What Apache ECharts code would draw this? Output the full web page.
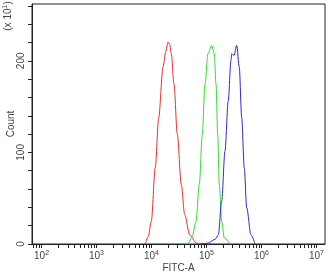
<!DOCTYPE html>
<html>
<head>
<meta charset="utf-8">
<script src="https://cdn.jsdelivr.net/npm/echarts@6/dist/echarts.min.js"></script>
<style>
  html, body { margin: 0; padding: 0; background: #fff; }
  #chart { width: 329px; height: 275px; }
</style>
</head>
<body>
<div id="chart"></div>
<script>
// FITC-A channel given as log10 exponent, counts in units of x10
const redX = [3.887, 3.94, 3.996, 4.069, 4.131, 4.209, 4.26, 4.3, 4.33, 4.36, 4.409, 4.469, 4.542, 4.604, 4.695, 4.815, 4.882];
const redY = [0, 8, 24.5, 83.5, 138, 193, 210, 220.5, 218, 207.7, 174.7, 119.8, 64.8, 31.9, 9.9, 1.1, 0];

const greenX = [4.609, 4.669, 4.74, 4.809, 4.869, 4.924, 4.973, 5.027, 5.095, 5.142, 5.173, 5.204, 5.233, 5.276, 5.324, 5.427];
const greenY = [0, 1, 8, 24.5, 64.8, 119.8, 174.7, 207.7, 216.8, 207.7, 174.7, 119.8, 64.8, 24.5, 6.6, 0];

const blueX = [4.882, 4.96, 5.027, 5.155, 5.215, 5.276, 5.336, 5.396, 5.445, 5.458, 5.5, 5.549, 5.596, 5.64, 5.687, 5.731, 5.809, 5.882];
const blueY = [0, 0.5, 1, 5, 9.9, 46.5, 101.4, 156.4, 200.3, 207.7, 205.8, 216.8, 193.1, 138.1, 83.2, 39.6, 9.9, 0];

const decades = [2, 3, 4, 5, 6, 7];
const yLabels = [0, 100, 200];
const yTicks = [0, 20, 40, 60, 80, 100, 120, 140, 160, 180, 200, 220, 240, 260];

const xMin = 1.827, xMax = 7.155;

// log minor ticks (2..9 x 10^d) plus the decades
const xTicks = [];
for (let d = 1; d <= 7; d++) {
  for (let k = 1; k <= 9; k++) {
    const v = d + Math.log10(k);
    if (v >= xMin && v <= xMax) xTicks.push(+v.toFixed(4));
  }
}

const zip = (xs, ys) => xs.map((x, i) => [x, ys[i]]);

const font = "Liberation Sans, Arial, sans-serif";
const textColor = "#444";

const chart = echarts.init(document.getElementById("chart"));

chart.setOption({
  animation: false,
  grid: {
    left: 32,
    right: 4,
    top: 4,
    bottom: 31,
    outerBoundsMode: "none",
    containLabel: false,
    show: true,
    borderColor: "#222",
    borderWidth: 1,
  },
  xAxis: {
    type: "value",
    min: xMin,
    max: xMax,
    name: "FITC-A",
    nameLocation: "middle",
    nameGap: 19,
    nameMoveOverlap: false,
    nameTextStyle: { fontFamily: font, fontSize: 10, color: textColor },
    axisLine: { lineStyle: { color: "#222", width: 1 } },
    axisTick: {
      customValues: xTicks,
      length: 4,
      lineStyle: { color: "#222" },
    },
    axisLabel: {
      customValues: decades,
      margin: 6,
      fontFamily: font,
      formatter: (v) => "{b|10}{s|" + v + "}",
      rich: {
        b: { fontSize: 10, color: textColor, fontFamily: font },
        s: { fontSize: 7, color: textColor, fontFamily: font, padding: [0, 0, 6, 0] },
      },
    },
    splitLine: { show: false },
  },
  yAxis: {
    type: "value",
    min: 0,
    max: 262,
    name: "Count",
    nameLocation: "middle",
    nameGap: 16,
    nameMoveOverlap: false,
    nameTextStyle: { fontFamily: font, fontSize: 10, color: textColor },
    axisLine: { show: true, lineStyle: { color: "#222", width: 1 } },
    axisTick: {
      show: true,
      customValues: yTicks,
      length: 4,
      lineStyle: { color: "#222" },
    },
    axisLabel: {
      customValues: yLabels,
      rotate: 90,
      margin: 6,
      fontFamily: font,
      fontSize: 10,
      color: textColor,
    },
    splitLine: { show: false },
  },
  graphic: [
    {
      type: "text",
      x: 8,
      y: 16,
      rotation: Math.PI / 2,
      style: {
        text: "{b|(x 10}{s|1}{b|)}",
        rich: {
          b: { fontFamily: font, fontSize: 10, fill: textColor },
          s: { fontFamily: font, fontSize: 7, fill: textColor, padding: [0, 0, 6, 0] },
        },
        align: "center",
        verticalAlign: "middle",
      },
    },
  ],
  series: [
    { name: "red", data: zip(redX, redY), color: "#e83030" },
    { name: "green", data: zip(greenX, greenY), color: "#30dd30" },
    { name: "blue", data: zip(blueX, blueY), color: "#2a2ad0" },
  ].map((s) => ({
    type: "line",
    name: s.name,
    data: s.data,
    showSymbol: false,
    smooth: 0.3,
    smoothMonotone: "x",
    lineStyle: { width: 1, color: s.color },
    itemStyle: { color: s.color },
  })),
});
</script>
</body>
</html>
